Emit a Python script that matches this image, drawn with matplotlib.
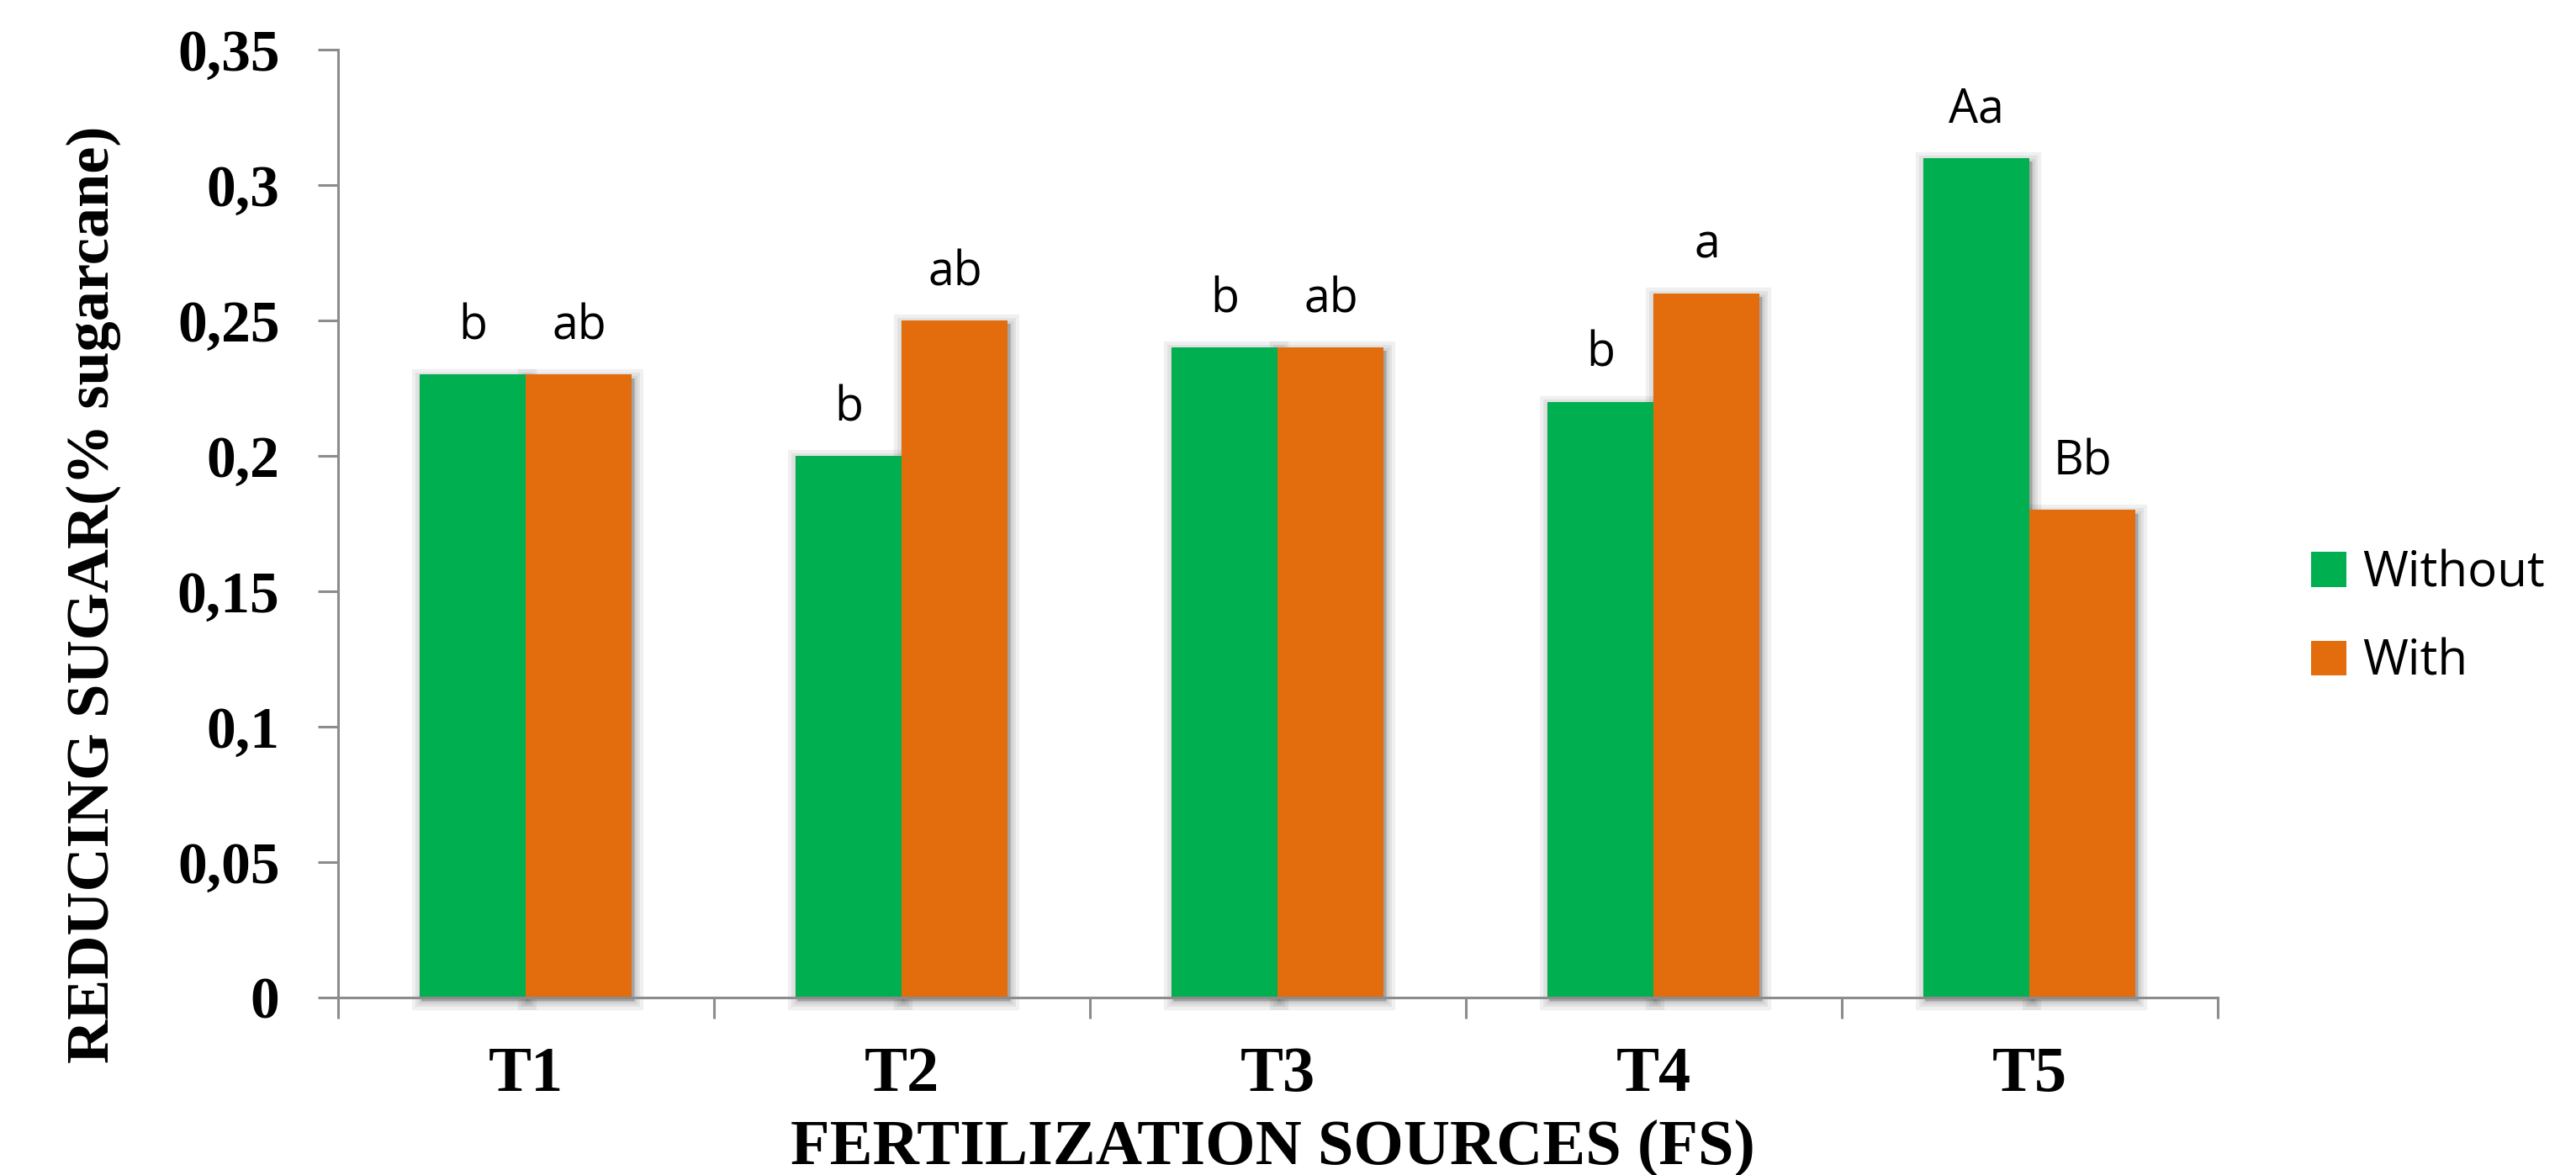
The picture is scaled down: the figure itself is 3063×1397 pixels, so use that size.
import numpy as np
import matplotlib
matplotlib.use('Agg')
import matplotlib.pyplot as plt
import matplotlib.patheffects as pe

# data
sources = ['T1', 'T2', 'T3', 'T4', 'T5']
without_vals = [0.23, 0.20, 0.24, 0.22, 0.31]
with_vals = [0.23, 0.25, 0.24, 0.26, 0.18]
without_letters = ['b', 'b', 'b', 'b', 'Aa']
with_letters = ['ab', 'ab', 'ab', 'a', 'Bb']
y_ticks = [0, 0.05, 0.1, 0.15, 0.2, 0.25, 0.3, 0.35]
y_tick_labels = ['0', '0,05', '0,1', '0,15', '0,2', '0,25', '0,3', '0,35']

green = '#00AF50'
orange = '#E36C0C'
axis_gray = '#8C8C8C'
serif = 'Liberation Serif'
sans = 'Open Sans'

fig = plt.figure(figsize=(30.63, 13.97), dpi=100)
ax = fig.add_axes([0.1312, 0.151, 0.7297, 0.8068])

x = np.arange(len(sources))
w = 0.282

# soft excel-like shadow, drawn under the bars
shadow = [pe.SimplePatchShadow(offset=(1.5, -3), shadow_rgbFace='k', alpha=0.06,
                               linewidth=lw, foreground='k') for lw in (16, 10, 5, 1)]
for xs, vals in ((x - w / 2, without_vals), (x + w / 2, with_vals)):
    sb = ax.bar(xs, vals, w, color='none', linewidth=0, zorder=1)
    for p in sb:
        p.set_path_effects(shadow)
        p.set_clip_on(False)

ax.bar(x - w / 2, without_vals, w, color=green, linewidth=0, zorder=2, label='Without')
ax.bar(x + w / 2, with_vals, w, color=orange, linewidth=0, zorder=2, label='With')

for i in range(len(sources)):
    ax.text(x[i] - w / 2, without_vals[i] + 0.013, without_letters[i], ha='center',
            va='baseline', fontsize=40, family=sans)
    ax.text(x[i] + w / 2, with_vals[i] + 0.013, with_letters[i], ha='center',
            va='baseline', fontsize=40, family=sans)

ax.set_xlim(-0.5, len(sources) - 0.5)
ax.set_ylim(0, 0.35)
ax.set_yticks(y_ticks)
ax.set_yticklabels(y_tick_labels, fontsize=50, fontweight='bold', family=serif)
ax.set_xticks(x)
ax.set_xticklabels(sources, fontsize=55, fontweight='bold', family=serif)
ax.set_xticks(np.arange(len(sources) + 1) - 0.5, minor=True)
ax.tick_params(axis='x', which='major', length=0, pad=42)
ax.tick_params(axis='x', which='minor', length=18, width=2.2, color=axis_gray)
ax.tick_params(axis='y', length=17, width=2.2, color=axis_gray, pad=33)

for s in ['top', 'right']:
    ax.spines[s].set_visible(False)
for s in ['left', 'bottom']:
    ax.spines[s].set_color(axis_gray)
    ax.spines[s].set_linewidth(2.2)

fig.text(129 / 3063, 1 - 707 / 1397, 'REDUCING SUGAR(% sugarcane)', rotation=90,
         rotation_mode='anchor', ha='center', va='baseline', fontsize=52,
         fontweight='bold', family=serif)
fig.text(1513 / 3063, 1 - 1384 / 1397, 'FERTILIZATION SOURCES (FS)', ha='center',
         va='baseline', fontsize=55, fontweight='bold', family=serif)

fig.legend(loc='center left', bbox_to_anchor=(2748 / 3063, 1 - 735 / 1397),
           frameon=False, prop={'family': sans, 'size': 42}, handlelength=0.72,
           handleheight=0.72, handletextpad=0.33, labelspacing=0.8,
           borderpad=0, borderaxespad=0)

fig.savefig('out.png', dpi=100)
